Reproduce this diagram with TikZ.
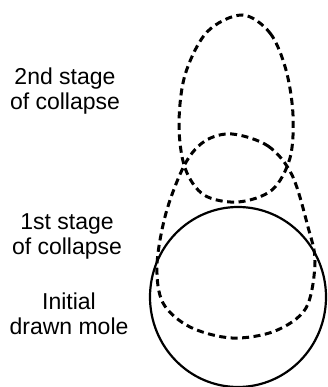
\documentclass[tikz,border=0pt]{standalone}
\usepackage{fontspec}
\setmainfont{Liberation Sans}
\begin{document}
\begin{tikzpicture}[x=1pt,y=-1pt,
    stage/.style={align=center, inner sep=0pt, anchor=north, font=\fontsize{23}{25}\selectfont},
    outline/.style={line width=2.2pt},
    collapse/.style={line width=3pt, dash pattern=on 7pt off 4.5pt},
]
\useasboundingbox (0,0) rectangle (327,387);
\node[stage] (second) at (65,68) {2nd stage\\of collapse};
\node[stage] (first) at (67,213) {1st stage\\of collapse};
\node[stage] (mole) at (69,293) {Initial\\drawn mole};
\draw[outline] (238,297) ellipse [x radius=88, y radius=90];
\draw[collapse] plot[smooth cycle, tension=0.55] coordinates {(242,15) (270,33) (286,70) (293,115) (290,158) (272,190) (238,202) (204,195) (185,168) (179,125) (185,75) (207,32)};
\draw[collapse] plot[smooth cycle, tension=0.55] coordinates {(232,134) (268,146) (292,175) (308,227) (315,262) (306,308) (275,331) (232,338) (190,327) (163,303) (157,265) (166,213) (185,164) (205,141)};
\end{tikzpicture}
\end{document}
